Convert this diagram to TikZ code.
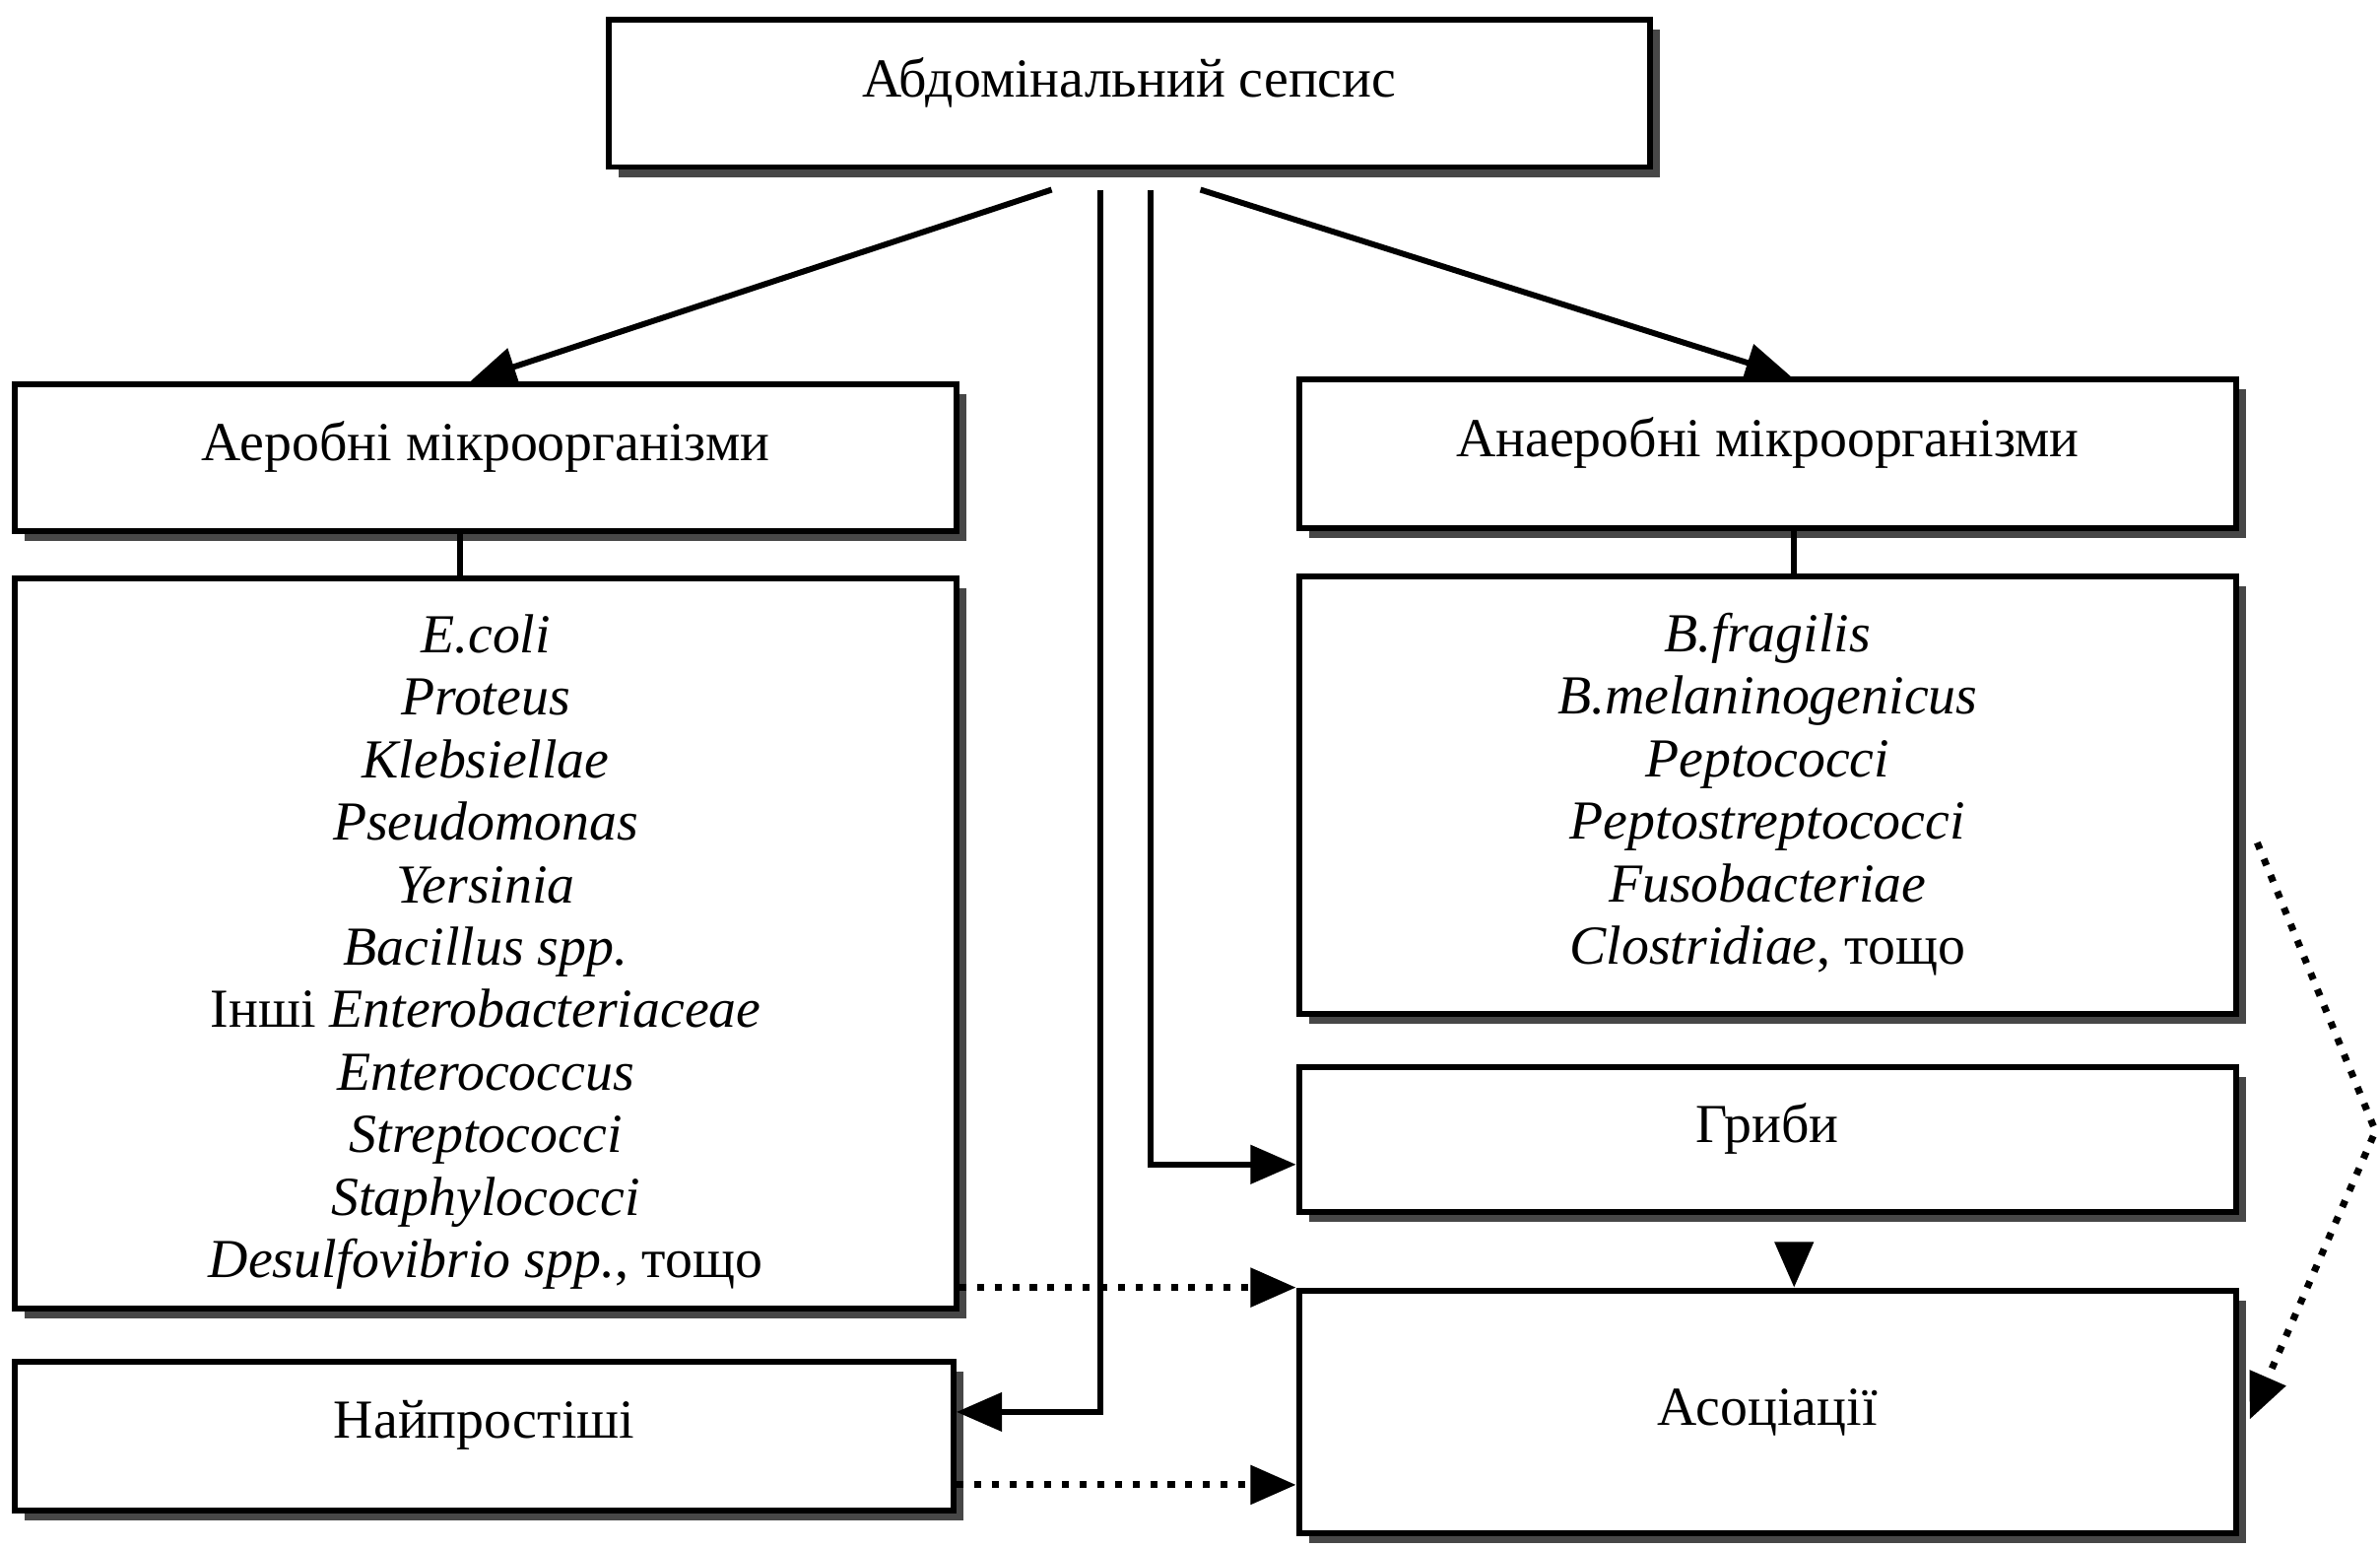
\documentclass[tikz,border=0pt]{standalone}
\usepackage{fontspec}
\setmainfont{Liberation Serif}
\usetikzlibrary{arrows.meta,shadows,calc}
\newcommand{\listtext}[2]{\raisebox{#1}[\height][\depth]{\begin{tabular}{@{}c@{}}#2\end{tabular}}}
\newcommand{\headtext}[1]{\raisebox{2pt}[\height][\depth]{#1}}
\begin{document}
\begin{tikzpicture}[x=0.01cm,y=-0.01cm,
  box/.style={draw=black, line width=1.1pt, fill=white, rectangle, inner sep=0pt, align=center,
    font=\fontsize{10.3}{11.7}\selectfont,
    general shadow={fill=black!72, shadow xshift=0.065cm, shadow yshift=-0.065cm}},
  conn/.style={line width=1.1pt},
  tip/.style={-{Triangle[length=0.3cm,width=0.25cm]}},
  dots/.style={dotted, line width=1.3pt}
]
\useasboundingbox (0,0) rectangle (1568,1019);
\node[box, minimum width=6.86cm, minimum height=0.97cm] (T) at (744,61.5) {\headtext{Абдомінальний сепсис}};
\node[box, minimum width=6.20cm, minimum height=0.97cm] (A) at (320,301.5) {\headtext{Аеробні мікроорганізми}};
\node[box, minimum width=6.17cm, minimum height=0.98cm] (B) at (1164.5,299) {\headtext{Анаеробні мікроорганізми}};
\node[box, minimum width=6.20cm, minimum height=4.81cm] (AL) at (320,621.5) {\listtext{-1.7pt}{\itshape E.coli\\ \itshape Proteus\\ \itshape Klebsiellae\\ \itshape Pseudomonas\\ \itshape Yersinia\\ \itshape Bacillus spp.\\ Інші \textit{Enterobacteriaceae}\\ \itshape Enterococcus\\ \itshape Streptococci\\ \itshape Staphylococci\\ \textit{Desulfovibrio spp.}, тощо}};
\node[box, minimum width=6.17cm, minimum height=2.88cm] (BL) at (1164.5,524) {\listtext{0pt}{\itshape B.fragilis\\ \itshape B.melaninogenicus\\ \itshape Peptococci\\ \itshape Peptostreptococci\\ \itshape Fusobacteriae\\ \textit{Clostridiae}, тощо}};
\node[box, minimum width=6.17cm, minimum height=0.95cm] (G) at (1164.5,750.5) {\headtext{Гриби}};
\node[box, minimum width=6.17cm, minimum height=1.60cm] (S) at (1164.5,930) {Асоціації};
\node[box, minimum width=6.18cm, minimum height=0.98cm] (N) at (319,946) {\headtext{Найпростіші}};

\draw[conn,tip] ($(T.south west)+(294,13)$) -- ($(A.north)+(-10,0)$);
\draw[conn,tip] ($(T.south west)+(392,13)$) -- ($(B.north)+(15.5,0)$);
\draw[conn,tip] ($(T.south west)+(326,13)$) |- ($(N.east)+(0,-16)$);
\draw[conn,tip] ($(T.south west)+(359,13)$) |- ($(G.west)+(0,16.5)$);
\draw[conn] ($(A.south)+(-17,0)$) -- ($(AL.north)+(-17,0)$);
\draw[conn] ($(B.south)+(17.5,0)$) -- ($(BL.north)+(17.5,0)$);
\draw[dots,tip] (AL.east |- S.north west) -- (S.north west);
\draw[dots,tip] ($(N.east)+(0,32)$) -- (S.west |- 0,978);
\draw[conn,tip] ($(G.south)+(17.5,22)$) -- ($(S.north)+(17.5,0)$);
\coordinate (bend) at (1565,745);
\draw[dots,tip] ($(BL.east)+(12,31)$) -- (bend) -- ($(S.east)+(7,5)$);
\end{tikzpicture}
\end{document}
